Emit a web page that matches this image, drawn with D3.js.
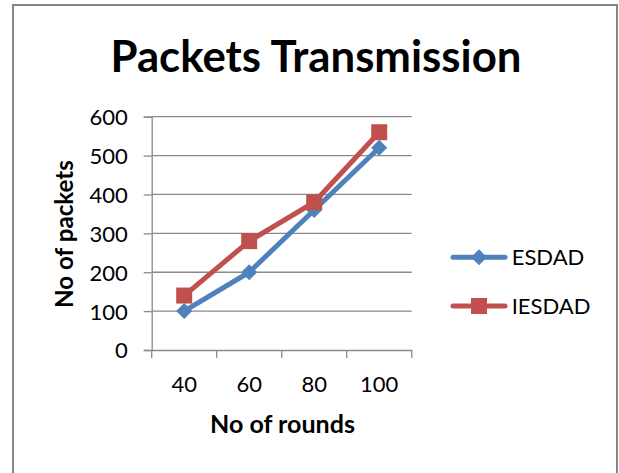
<!DOCTYPE html>
<html>
<head>
<meta charset="utf-8">
<script src="https://cdn.jsdelivr.net/npm/d3@7"></script>
<style>
  html, body { margin: 0; padding: 0; background: #fff; }
  svg { display: block; }
  text { font-family: Lato, "Open Sans", "DejaVu Sans", sans-serif; fill: #000; }
</style>
</head>
<body>
<svg id="chart" width="619" height="473"></svg>
<script>
// ---- data ----
const categories = ["40", "60", "80", "100"];
const seriesNames = ["ESDAD", "IESDAD"];
const esdad = [100, 200, 360, 520];
const iesdad = [140, 280, 380, 560];
const yTicks = [0, 100, 200, 300, 400, 500, 600];
const titleText = "Packets Transmission";
const xTitle = "No of rounds";
const yTitle = "No of packets";

const colors = { ESDAD: "#4F81BD", IESDAD: "#C0504D" };
const series = [
  { name: seriesNames[0], values: esdad, marker: "diamond" },
  { name: seriesNames[1], values: iesdad, marker: "square" }
];

(function () {
const svg = d3.select("#chart");

// outer border
svg.append("rect")
  .attr("x", 13).attr("y", 5).attr("width", 604).attr("height", 480)
  .attr("fill", "#fff").attr("stroke", "#868686").attr("stroke-width", 2);

// helper: fit text to target width
function fit(sel, target) {
  const w = sel.node().getComputedTextLength();
  const fs = parseFloat(sel.attr("font-size"));
  sel.attr("font-size", fs * target / w);
  return sel;
}

const pLeft = 151.7, pRight = 411.7, pTop = 116.7, pBottom = 350;

const x = d3.scaleBand().domain(categories).range([pLeft, pRight]);
const y = d3.scaleLinear().domain([0, 600]).range([pBottom, pTop]);

const gridColor = "#8a8a8a";

// gridlines
svg.append("g").selectAll("line").data(yTicks.filter(d => d > 0)).join("line")
  .attr("x1", pLeft).attr("x2", pRight)
  .attr("y1", d => y(d)).attr("y2", d => y(d))
  .attr("stroke", gridColor).attr("stroke-width", 1.3);

// y axis
const yAxis = svg.append("g").attr("transform", `translate(${pLeft},0)`)
  .call(d3.axisLeft(y).tickValues(yTicks).tickSize(8).tickPadding(16));
yAxis.select(".domain").attr("stroke", gridColor).attr("stroke-width", 1.3);
yAxis.selectAll(".tick line").attr("stroke", gridColor).attr("stroke-width", 1.3);
yAxis.selectAll(".tick text").attr("font-size", 22).attr("font-family", "Lato, sans-serif")
  .attr("dy", "0.36em");

// x axis
const xAxis = svg.append("g").attr("transform", `translate(0,${pBottom})`)
  .call(d3.axisBottom(x).tickSize(0).tickPadding(26));
xAxis.select(".domain").attr("stroke", gridColor).attr("stroke-width", 1.3);
xAxis.selectAll(".tick text").attr("font-size", 22).attr("font-family", "Lato, sans-serif");
// category boundary ticks
const bounds = categories.map(c => x(c)).concat([pRight]);
svg.append("g").selectAll("line").data(bounds).join("line")
  .attr("x1", d => d).attr("x2", d => d)
  .attr("y1", pBottom).attr("y2", pBottom + 8)
  .attr("stroke", gridColor).attr("stroke-width", 1.3);

// lines & markers
const cx = (d, i) => x(categories[i]) + x.bandwidth() / 2;
const line = d3.line().x(cx).y(d => y(d));

function drawMarker(g, type, px, py, color) {
  const s = 8;
  if (type === "diamond") {
    g.append("path").attr("d", `M${px},${py - s}L${px + s},${py}L${px},${py + s}L${px - s},${py}Z`)
      .attr("fill", color);
  } else {
    g.append("rect").attr("x", px - s).attr("y", py - s).attr("width", 2 * s).attr("height", 2 * s)
      .attr("fill", color);
  }
}

series.forEach(s => {
  const g = svg.append("g");
  g.append("path").datum(s.values).attr("d", line)
    .attr("fill", "none").attr("stroke", colors[s.name]).attr("stroke-width", 5)
    .attr("stroke-linejoin", "round").attr("stroke-linecap", "round");
  s.values.forEach((v, i) => drawMarker(g, s.marker, cx(v, i), y(v), colors[s.name]));
});

// title
const t = svg.append("text").attr("x", 316).attr("y", 71.7)
  .attr("text-anchor", "middle").attr("font-weight", "bold").attr("font-size", 40)
  .text(titleText);
fit(t, 411);

// x title
const xt = svg.append("text").attr("x", 282.5).attr("y", 433)
  .attr("text-anchor", "middle").attr("font-weight", "bold").attr("font-size", 24)
  .text(xTitle);
fit(xt, 145);

// y title
const yt = svg.append("text").attr("transform", "translate(73,234) rotate(-90)")
  .attr("text-anchor", "middle").attr("font-weight", "bold").attr("font-size", 24)
  .text(yTitle);
fit(yt, 148);

// legend
const legendY = [257.3, 306];
series.forEach((s, i) => {
  const g = svg.append("g");
  const ly = legendY[i];
  g.append("line").attr("x1", 453).attr("x2", 505).attr("y1", ly).attr("y2", ly)
    .attr("stroke", colors[s.name]).attr("stroke-width", 5).attr("stroke-linecap", "round");
  drawMarker(g, s.marker, 479, ly, colors[s.name]);
  g.append("text").attr("x", 511.7).attr("y", ly + 8).attr("font-size", 22)
    .text(s.name);
});
})();
</script>
</body>
</html>
